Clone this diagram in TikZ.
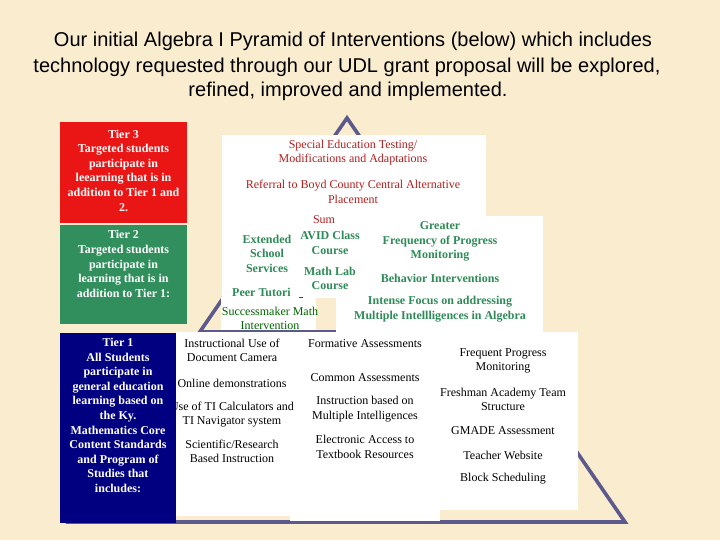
\documentclass[tikz,border=0pt]{standalone}
\usepackage{fontspec}
\setmainfont{Liberation Serif}
\newfontfamily\titlefont{Liberation Sans}
\definecolor{bgcol}{RGB}{250,236,206}
\definecolor{pyrcol}{RGB}{92,90,140}
\definecolor{tierred}{RGB}{234,22,22}
\definecolor{tiergreen}{RGB}{48,143,92}
\definecolor{tierblue}{RGB}{0,0,128}
\definecolor{txtred}{RGB}{178,30,30}
\definecolor{txtgreen}{RGB}{46,139,87}
\definecolor{smgreen}{RGB}{0,100,0}
\tikzset{
  titletxt/.style={font=\titlefont\fontsize{20}{25}\selectfont, inner sep=0pt, anchor=base},
  boxtxt/.style={font=\fontsize{12}{14.6}\selectfont, align=center, inner sep=0pt},
  tiertxt/.style={boxtxt, text=white, font=\bfseries\fontsize{12}{14.6}\selectfont},
  redtxt/.style={boxtxt, text=txtred},
  greentxt/.style={boxtxt, text=txtgreen, font=\bfseries\fontsize{12}{14.6}\selectfont},
  smtxt/.style={boxtxt, text=smgreen},
  blacktxt/.style={boxtxt, text=black},
  whitebox/.style={fill=white},
  pyr/.style={draw=pyrcol, line width=3.6pt, line join=miter},
}
\begin{document}
\begin{tikzpicture}[x=1pt,y=-1pt]
\useasboundingbox (0,0) rectangle (720,540);
\fill[bgcol] (0,0) rectangle (720,540);

% title
\node[titletxt] (t1) at (353,47) {Our initial Algebra I Pyramid of Interventions (below) which includes};
\node[titletxt] (t2) at (347,73) {technology requested through our UDL grant proposal will be explored,};
\node[titletxt] (t3) at (348,97) {refined, improved and implemented.};

% pyramid
\coordinate (apex) at (347,118);
\coordinate (pl) at (69,522);
\coordinate (pr) at (625,522);
\coordinate (hl) at (200,332);
\coordinate (hr) at (494,332);
\draw[pyr] (apex) -- (pr) -- (pl) -- cycle;
\draw[pyr] (hl) -- (hr);

% white boxes
\fill[whitebox] (222,135) rectangle (486,298);
\fill[whitebox] (221,297) rectangle (316,330);
\fill[whitebox] (336,216) rectangle (543,334);
\fill[whitebox] (176,332) rectangle (290,516);
\fill[whitebox] (290,332) rectangle (440,521);
\fill[whitebox] (440,332) rectangle (578,510);

% tier 3 content
\node[redtxt] (sped) at (353,152.5) {Special Education Testing/\\Modifications and Adaptations};
\node[redtxt] (refer) at (353,192) {Referral to Boyd County Central Alternative\\Placement};
% tier 2 content
\node[greentxt] (ext) at (267,253.5) {Extended\\School\\Services};
\node[redtxt] (sum) at (324,220) {Sum};
\node[greentxt] (avid) at (330,243) {AVID Class\\Course};
\node[greentxt] (mlab) at (330,278.5) {Math Lab\\Course};
\node[greentxt, anchor=west] (peer) at (232,292) {Peer Tutori};
\node[inner sep=0pt, text=txtgreen!60!black] (dash) at (301,297) {\rule{3.5pt}{0.9pt}};
\node[greentxt] (greater) at (440,241.5) {Greater\\Frequency of Progress\\Monitoring};
\node[greentxt] (behav) at (440,278) {Behavior Interventions};
\node[greentxt] (intense) at (440,309) {Intense Focus on addressing\\Multiple Intellligences in Algebra};
\node[smtxt] (smaker) at (270,318.5) {Successmaker Math\\Intervention};
% tier 1 content
\node[blacktxt] (a1) at (232,350.5) {Instructional Use of\\Document Camera};
\node[blacktxt] (a2) at (232,383) {Online demonstrations};
\node[blacktxt] (a3) at (232,414.5) {Use of TI Calculators and\\TI Navigator system};
\node[blacktxt] (a4) at (232,451.5) {Scientific/Research\\Based Instruction};
\node[blacktxt] (b1) at (365,344) {Formative Assessments};
\node[blacktxt] (b2) at (365,378) {Common Assessments};
\node[blacktxt] (b3) at (365,409) {Instruction based on\\Multiple Intelligences};
\node[blacktxt] (b4) at (365,447) {Electronic Access to\\Textbook Resources};
\node[blacktxt] (c1) at (503,361) {Frequent Progress\\Monitoring};
\node[blacktxt] (c2) at (503,399.5) {Freshman Academy Team\\Structure};
\node[blacktxt] (c3) at (503,431) {GMADE Assessment};
\node[blacktxt] (c4) at (503,455) {Teacher Website};
\node[blacktxt] (c5) at (503,479) {Block Scheduling};

% tier boxes
\fill[tierred] (60,122) rectangle (187,223);
\fill[tiergreen] (60,225) rectangle (187,324);
\fill[tierblue] (60,333) rectangle (176,523);
\node[tiertxt] (tier3) at (123.5,170.5) {Tier 3\\Targeted students\\participate in\\leearning that is in\\addition to Tier 1 and\\2.};
\node[tiertxt] (tier2) at (123.5,264) {Tier 2\\Targeted students\\participate in\\learning that is in\\addition to Tier 1:};
\node[tiertxt] (tier1) at (118,415.5) {Tier 1\\All Students\\participate in\\general education\\learning based on\\the Ky.\\Mathematics Core\\Content Standards\\and Program of\\Studies that\\includes:};
\end{tikzpicture}
\end{document}
